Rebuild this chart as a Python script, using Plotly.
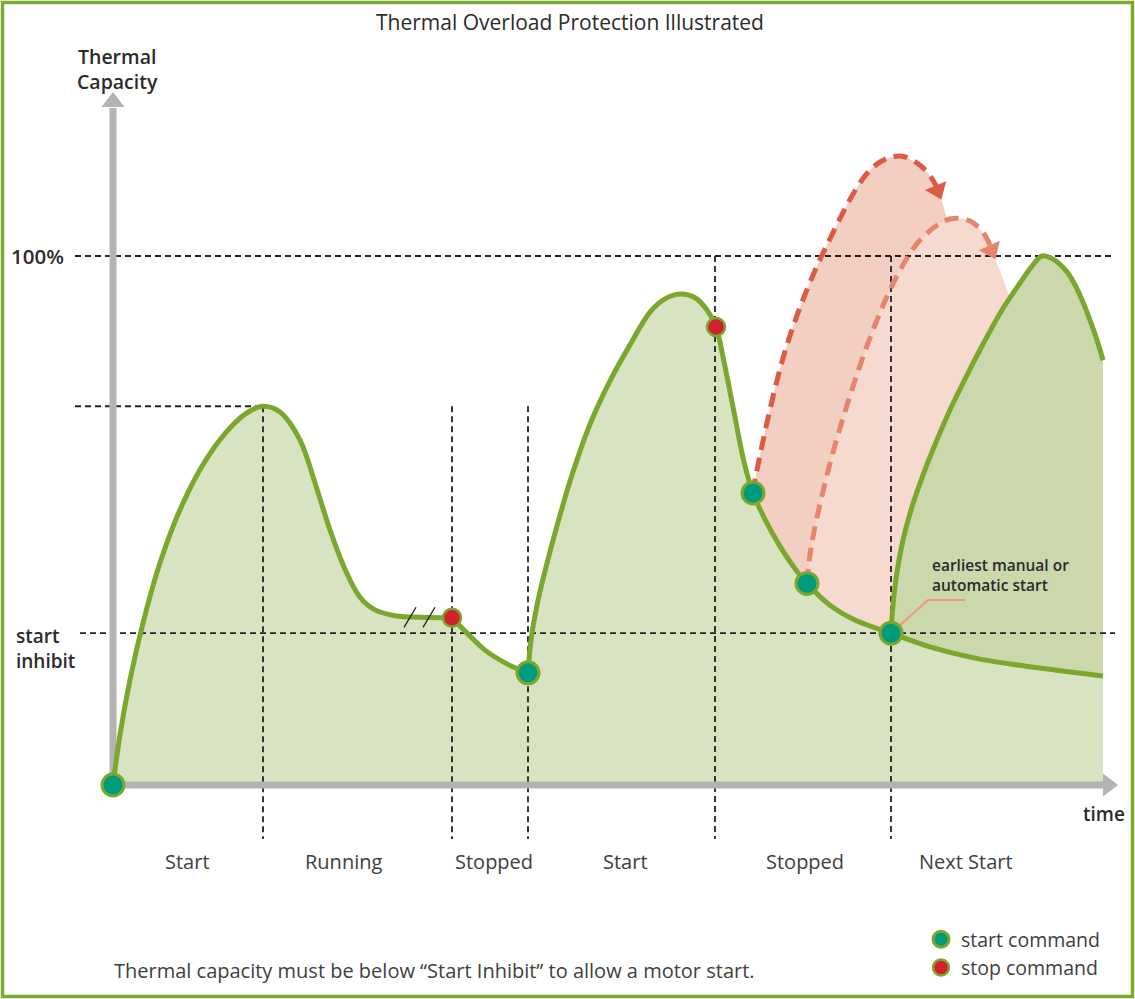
import math
import numpy as np
import plotly.graph_objects as go

# ---------------- data (time in arbitrary units, thermal capacity in %) ----------------
FULL = 100.0
START_INHIBIT = 28.7

# first start + running (ends at the stop command)
SEG_A_T = [0.0, 0.7, 1.7, 3.0, 4.7, 6.9, 9.4, 12.0, 13.7, 15.0, 16.7, 18.7, 20.2, 21.7, 23.2, 24.7,
           26.2, 28.2, 30.7, 33.9]
SEG_A_V = [0.0, 9.5, 19.9, 30.6, 42.0, 52.9, 61.8, 68.1, 70.7, 71.6, 70.5, 65.2, 57.1, 48.2, 40.8, 35.5,
           33.1, 32.0, 31.7, 31.6]
# stopped (cooling) until the second start command
SEG_B_T = [33.9, 35.3, 37.2, 39.4, 41.5]
SEG_B_V = [31.6, 28.9, 25.5, 22.9, 21.2]
# second start, stop, then cooling
SEG_C_T = [41.5, 41.8, 42.4, 43.3, 44.5, 45.9, 47.7, 49.7, 51.7, 53.7, 55.2, 56.7, 58.2, 59.4, 60.3,
           61.1, 62.1, 63.1, 64.0, 65.2, 66.7, 68.2, 69.4, 71.7, 74.2, 77.8, 81.7, 86.7, 92.7, 99.0]
SEG_C_V = [21.2, 27.4, 34.0, 41.2, 49.7, 58.6, 68.2, 76.4, 83.2, 89.4, 91.9, 92.8, 92.1, 89.8, 86.6,
           80.0, 70.5, 61.1, 55.2, 50.2, 45.1, 40.9, 38.1, 34.0, 31.2, 28.7, 26.1, 23.8, 22.1, 20.6]
# next start (earliest allowed start)
NEXT_T = [77.8, 78.0, 78.4, 79.0, 79.9, 81.0, 82.3, 83.8, 85.4, 87.1, 88.9, 90.7, 91.9, 92.9, 94.0,
          95.4, 96.4, 97.4, 98.4, 99.0]
NEXT_V = [28.7, 34.0, 40.3, 46.3, 52.6, 58.6, 64.8, 71.3, 77.5, 83.7, 89.8, 94.9, 98.1, 100.0, 99.4,
          97.0, 93.8, 89.4, 84.1, 80.3]
# inhibited start attempts (would exceed 100 %); last point = edge of the shaded area
TRY1_T = [64.0, 64.4, 67.4, 71.4, 76.0, 78.7, 80.8, 82.1, 82.7, 83.3]
TRY1_V = [55.2, 59.6, 83.2, 102.1, 116.8, 118.9, 117.0, 114.0, 111.3, 107.8]
TRY2_T = [69.4, 69.8, 71.4, 73.5, 76.0, 78.5, 80.9, 83.7, 85.7, 87.1, 88.1, 89.7]
TRY2_V = [38.1, 44.8, 58.6, 72.4, 86.0, 96.6, 103.4, 107.0, 106.6, 104.2, 100.0, 92.1]

START_CMD_T = [0.0, 41.5, 64.0, 69.4, 77.8]
START_CMD_V = [0.0, 21.2, 55.2, 38.1, 28.7]
STOP_CMD_T = [33.9, 60.3]
STOP_CMD_V = [31.6, 86.6]

EVENT_T = [15.0, 33.9, 41.5, 60.2, 77.8]          # vertical guide lines
PHASES = ["Start", "Running", "Stopped", "Start", "Stopped", "Next Start"]
PHASE_T = [7.4, 23.0, 38.1, 51.2, 69.2, 85.3]
BREAK_T = [29.7, 31.6]

# ---------------- pixel geometry helpers (layout only) ----------------
W, H = 1135, 999
X0PX, PXT = 113.0, 10.0        # origin pixel, pixels per time unit
Y0PX, PXV = 785.0, 5.29        # baseline pixel, pixels per %
XR = [(0 - X0PX) / PXT, (W - X0PX) / PXT]
YR = [(Y0PX - H) / PXV, Y0PX / PXV]


def tx(px):
    return (px - X0PX) / PXT


def vy(py):
    return (Y0PX - py) / PXV


GREEN = "#7BA72E"
TEAL = "#009B7C"
RED = "#D3202F"
FONT = "'Open Sans', Lato, sans-serif"
SM = 1.0

fig = go.Figure()


def add(tr):
    tr.update(showlegend=False, hoverinfo="skip")
    fig.add_trace(tr)


# main light-green area
main_t = SEG_A_T + SEG_B_T[1:] + SEG_C_T[1:]
main_v = SEG_A_V + SEG_B_V[1:] + SEG_C_V[1:]
add(go.Scatter(x=main_t, y=main_v, mode="lines", line=dict(width=0, shape="spline", smoothing=SM),
               fill="tozeroy", fillcolor="#D7E3C1"))

ct = np.array(SEG_C_T)
cv = np.array(SEG_C_V)


def band(upper_t, upper_v, color):
    i0 = int(np.searchsorted(ct, upper_t[0] - 1e-6))
    i1 = min(int(np.searchsorted(ct, upper_t[-1])) + 1, len(ct))
    add(go.Scatter(x=ct[i0:i1], y=cv[i0:i1], mode="lines",
                   line=dict(width=0, shape="spline", smoothing=SM)))
    add(go.Scatter(x=upper_t, y=upper_v, mode="lines", line=dict(width=0, shape="spline", smoothing=SM),
                   fill="tonexty", fillcolor=color))


band(TRY1_T, TRY1_V, "#F2CFC0")
band(TRY2_T, TRY2_V, "#F6DAD0")
band(NEXT_T, NEXT_V, "#CAD8AC")

# dashed guide lines
peak1 = max(SEG_A_V)
peak1_t = SEG_A_T[int(np.argmax(SEG_A_V))]
gx, gy = [], []
for lvl, xs, xe in [(FULL, tx(75), tx(1115)), (START_INHIBIT, tx(80), tx(1115)), (peak1, tx(75), peak1_t)]:
    gx += [xs, xe, None]
    gy += [lvl, lvl, None]
for i, t in enumerate(EVENT_T):
    top = peak1 if i < 3 else FULL
    gx += [t, t, None]
    gy += [top, vy(839), None]
add(go.Scatter(x=gx, y=gy, mode="lines", line=dict(color="#222222", width=1.8, dash="6px,4px")))

# gray axes with arrowheads
add(go.Scatter(x=[0, 0, None, 0, tx(1104)], y=[0, vy(108), None, 0, 0], mode="lines",
               line=dict(color="#B3B3B3", width=7)))
add(go.Scatter(x=[0, tx(1108)], y=[vy(102), 0], mode="markers",
               marker=dict(symbol=["triangle-up", "triangle-right"], size=20, color="#B3B3B3")))

# inhibited start attempts (dashed with arrow heads)
for tt, vv, col in [(TRY1_T, TRY1_V, "#DC5B45"), (TRY2_T, TRY2_V, "#E6856D")]:
    add(go.Scatter(x=tt[:-1], y=vv[:-1], mode="lines",
                   line=dict(color=col, width=5, dash="14px,8px", shape="spline", smoothing=SM)))
    dxp = (tt[-2] - tt[-3]) * PXT
    dyp = (vv[-2] - vv[-3]) * PXV
    L = math.hypot(dxp, dyp)
    ang = -math.degrees(math.atan2(dyp, dxp))
    back = 6.5
    cx = tt[-2] - back * dxp / L / PXT
    cy = vv[-2] - back * dyp / L / PXV
    add(go.Scatter(x=[cx], y=[cy], mode="markers",
                   marker=dict(symbol="triangle-right", angle=ang, size=20, color=col)))

# thermal capacity curves
for tt, vv in [(SEG_A_T, SEG_A_V), (SEG_B_T, SEG_B_V), (SEG_C_T, SEG_C_V), (NEXT_T, NEXT_V)]:
    add(go.Scatter(x=tt, y=vv, mode="lines",
                   line=dict(color=GREEN, width=5, shape="spline", smoothing=SM)))

# break marks on the running section
bx, by = [], []
flat = SEG_A_V[-2]
for b in BREAK_T:
    bx += [b - 0.6, b + 0.6, None]
    by += [flat - 1.9, flat + 1.9, None]
add(go.Scatter(x=bx, y=by, mode="lines", line=dict(color="#222222", width=1.3)))

# leader line for the annotation
add(go.Scatter(x=[START_CMD_T[-1] + 0.9, tx(928), tx(965)],
               y=[START_CMD_V[-1] + 1.5, vy(600), vy(600)], mode="lines",
               line=dict(color="#EC9A84", width=2.2)))

# command markers
fig.add_trace(go.Scatter(x=START_CMD_T, y=START_CMD_V, mode="markers", name="start command",
                         marker=dict(size=22, color=TEAL, line=dict(color=GREEN, width=3)),
                         hoverinfo="skip"))
fig.add_trace(go.Scatter(x=STOP_CMD_T, y=STOP_CMD_V, mode="markers", name="stop command",
                         marker=dict(size=18, color=RED, line=dict(color=GREEN, width=2.5)),
                         hoverinfo="skip"))

# ---------------- text ----------------
ann = []


def text(x, y, s, size, xanchor="center", weight=400, color="#2b2b2b", ref="data", align="center"):
    d = dict(x=x, y=y, text=s, showarrow=False, xanchor=xanchor, yanchor="middle", align=align,
             font=dict(family=FONT, size=size, color=color, weight=weight))
    if ref == "paper":
        d.update(xref="paper", yref="paper")
    ann.append(d)


text(570 / W, 1 - 22 / H, "Thermal Overload Protection Illustrated", 21, ref="paper")
text(tx(117), vy(69), "Thermal<br>Capacity", 19.5, weight=600)
text(tx(9), FULL, "100%", 20.5, xanchor="left", weight=600)
text(tx(14), vy(648), "start<br>inhibit", 19, xanchor="left", weight=600, align="left")
text(tx(1127), vy(814), "time", 19, xanchor="right", weight=600)
text(tx(930), vy(575), "earliest manual or<br>automatic start", 15.5, xanchor="left", weight=600, align="left")
for lab, t in zip(PHASES, PHASE_T):
    text(t, vy(861), lab, 20, color="#404040")
text(tx(112), vy(970), "Thermal capacity must be below “Start Inhibit” to allow a motor start.", 20,
     xanchor="left", color="#404040")

fig.update_layout(
    width=W, height=H, margin=dict(l=0, r=0, t=0, b=0),
    paper_bgcolor="white", plot_bgcolor="white",
    xaxis=dict(range=XR, visible=False, fixedrange=True),
    yaxis=dict(range=YR, visible=False, fixedrange=True),
    annotations=ann,
    showlegend=True,
    legend=dict(x=921 / W, y=1 - 920 / H, xanchor="left", yanchor="top", bgcolor="rgba(0,0,0,0)",
                font=dict(family=FONT, size=19.5, color="#404040"), itemsizing="trace",
                traceorder="normal", tracegroupgap=0),
    shapes=[dict(type="rect", xref="paper", yref="paper", x0=2.5 / W, x1=1 - 2.5 / W,
                 y0=2.5 / H, y1=1 - 2.5 / H, line=dict(color="#7DAA36", width=3.5))],
)

fig.write_html("out.html", config={"displayModeBar": False},
               post_script="document.body.style.margin='0';document.body.style.overflow='hidden';")
